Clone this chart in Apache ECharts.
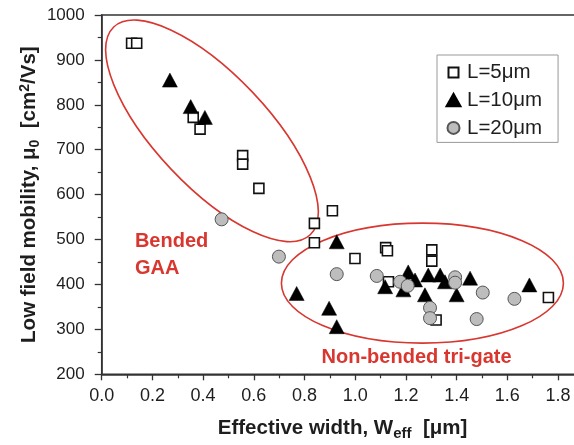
<!DOCTYPE html>
<html>
<head>
<meta charset="utf-8">
<script src="https://cdn.jsdelivr.net/npm/echarts@6/dist/echarts.min.js"></script>
<style>
  html, body { margin: 0; padding: 0; background: #fff; }
  #chart { width: 574px; height: 445px; }
</style>
</head>
<body>
<div id="chart"></div>
<script>
// Effective width (µm) and low-field mobility (cm²/Vs) for each gate length
const width5 = [0.118, 0.138, 0.361, 0.388, 0.556, 0.556, 0.620, 0.910, 0.839, 0.839, 0.999, 1.120, 1.127, 1.302, 1.302, 1.131, 1.319, 1.762];
const mobility5 = [937, 937, 772, 746, 687, 668, 614, 564, 536, 493, 458, 482, 475, 477, 452, 406, 321, 371];

const width10 = [0.269, 0.351, 0.407, 0.927, 0.769, 0.897, 0.927, 1.118, 1.209, 1.190, 1.236, 1.288, 1.275, 1.335, 1.354, 1.400, 1.453, 1.687];
const mobility10 = [855, 796, 772, 495, 380, 347, 306, 395, 428, 388, 410, 421, 377, 421, 406, 377, 414, 399];

const width20 = [0.473, 0.699, 0.927, 1.085, 1.177, 1.207, 1.295, 1.295, 1.394, 1.394, 1.503, 1.479, 1.628];
const mobility20 = [545, 462, 423, 419, 406, 397, 348, 325, 416, 404, 382, 323, 368];

const seriesNames = ['L=5μm', 'L=10μm', 'L=20μm'];
const xTickStep = 0.2;
const xLastLabel = 1.8;
const yTickStep = 100;

const pairs = (xs, ys) => xs.map((x, i) => [x, ys[i]]);

const FONT = '"Liberation Sans", Arial, Helvetica, sans-serif';
const INK = '#1e1e1e';
const RED = '#d8362f';

const chart = echarts.init(document.getElementById('chart'), null, { renderer: 'canvas' });

chart.setOption({
  animation: false,
  backgroundColor: '#fff',
  textStyle: { fontFamily: FONT },
  grid: {
    left: 101.7, top: 15, bottom: 70.7, right: -9.4,
    outerBoundsMode: 'none', containLabel: false,
    show: true, borderColor: '#333', borderWidth: 1.5, backgroundColor: 'transparent'
  },
  xAxis: {
    type: 'value', min: 0, max: 1.9, interval: xTickStep,
    name: 'Effective width, W{sub|eff}  [μm]',
    nameLocation: 'middle', nameGap: 41,
    nameTextStyle: {
      fontFamily: FONT, fontSize: 20.5, fontWeight: 'bold', color: INK,
      rich: {
        sub: { fontFamily: FONT, fontSize: 15, fontWeight: 'bold', color: INK, padding: [11, 0, 0, 0] }
      }
    },
    axisLine: { show: true, onZero: false, lineStyle: { color: '#333', width: 1.5 } },
    axisTick: { show: true, inside: false, length: 6, lineStyle: { color: '#333', width: 1.3 } },
    minorTick: { show: true, splitNumber: 2, length: 4, lineStyle: { color: '#333', width: 1.2 } },
    splitLine: { show: false },
    axisLabel: {
      fontFamily: FONT, fontSize: 18, color: INK, margin: 13,
      formatter: v => (v > xLastLabel + 1e-9 ? '' : v.toFixed(1))
    }
  },
  yAxis: {
    type: 'value', min: 200, max: 1000, interval: yTickStep,
    name: 'Low field mobility, μ{sub|0}  [cm{sup|2}/Vs]',
    nameLocation: 'middle', nameGap: 60, nameRotate: 90, nameMoveOverlap: false,
    nameTextStyle: {
      fontFamily: FONT, fontSize: 20.5, fontWeight: 'bold', color: INK,
      rich: {
        sub: { fontFamily: FONT, fontSize: 14, fontWeight: 'bold', color: INK, padding: [10, 0, 0, 0] },
        sup: { fontFamily: FONT, fontSize: 14, fontWeight: 'bold', color: INK, padding: [0, 0, 10, 0] }
      }
    },
    axisLine: { show: true, onZero: false, lineStyle: { color: '#333', width: 1.5 } },
    axisTick: { show: true, inside: false, length: 7, lineStyle: { color: '#333', width: 1.3 } },
    minorTick: { show: true, splitNumber: 2, length: 4, lineStyle: { color: '#333', width: 1.2 } },
    splitLine: { show: false },
    axisLabel: { fontFamily: FONT, fontSize: 17, color: INK, margin: 17, formatter: v => String(v) }
  },
  legend: {
    orient: 'vertical', left: 437, top: 55,
    padding: [7, 16, 4, 8], itemGap: 6.7,
    itemWidth: 17, itemHeight: 15,
    borderColor: '#999', borderWidth: 1, backgroundColor: '#fff',
    textStyle: { fontFamily: FONT, fontSize: 20.5, color: INK, lineHeight: 20 },
    data: [
      { name: seriesNames[0], icon: 'path://M0,0M15,15M2.5,2.5H12.5V12.5H2.5Z' },
      { name: seriesNames[1], icon: 'path://M0,0M15,15M7.5,1L14.5,13.5H0.5Z' },
      { name: seriesNames[2], icon: 'path://M0,0M15,15M1.5,7.5A6,6,0,1,1,13.5,7.5A6,6,0,1,1,1.5,7.5Z' }
    ]
  },
  series: [
    {
      name: seriesNames[0], type: 'scatter', symbol: 'rect', symbolSize: 10, z: 2,
      itemStyle: { color: '#fff', borderColor: '#111', borderWidth: 1.6, opacity: 1 },
      data: pairs(width5, mobility5)
    },
    {
      name: seriesNames[1], type: 'scatter', symbol: 'triangle', symbolSize: [15, 14], z: 3,
      itemStyle: { color: '#000', borderColor: '#000', borderWidth: 0.5, opacity: 1 },
      data: pairs(width10, mobility10)
    },
    {
      name: seriesNames[2], type: 'scatter', symbol: 'circle', symbolSize: 13, z: 4,
      itemStyle: { color: '#bdbdbd', borderColor: '#555', borderWidth: 1, opacity: 1 },
      data: pairs(width20, mobility20)
    }
  ]
});

// Region outlines and their captions, anchored in data space
const regions = [
  { center: [0.435, 742], rx: 143, ry: 56, angle: -46.6 },
  { center: [1.265, 403], rx: 141, ry: 60, angle: 0 }
];
const captions = [
  { at: [0.131, 465], text: 'Bended\nGAA', align: 'left' },
  { at: [1.242, 237], text: 'Non-bended tri-gate', align: 'center' }
];

const toPx = p => chart.convertToPixel({ gridIndex: 0 }, p);

const graphics = [];
regions.forEach(r => {
  const c = toPx(r.center);
  graphics.push({
    type: 'ellipse', x: c[0], y: c[1], rotation: r.angle * Math.PI / 180,
    shape: { cx: 0, cy: 0, rx: r.rx, ry: r.ry },
    style: { fill: 'none', stroke: RED, lineWidth: 1.6 },
    z: 1, silent: true
  });
});
captions.forEach(t => {
  const p = toPx(t.at);
  graphics.push({
    type: 'text', x: p[0], y: p[1],
    style: {
      text: t.text, fill: RED, font: 'bold 20px ' + FONT,
      textAlign: t.align, textVerticalAlign: 'middle', lineHeight: 27
    },
    z: 5, silent: true
  });
});
chart.setOption({ graphic: graphics });
</script>
</body>
</html>
